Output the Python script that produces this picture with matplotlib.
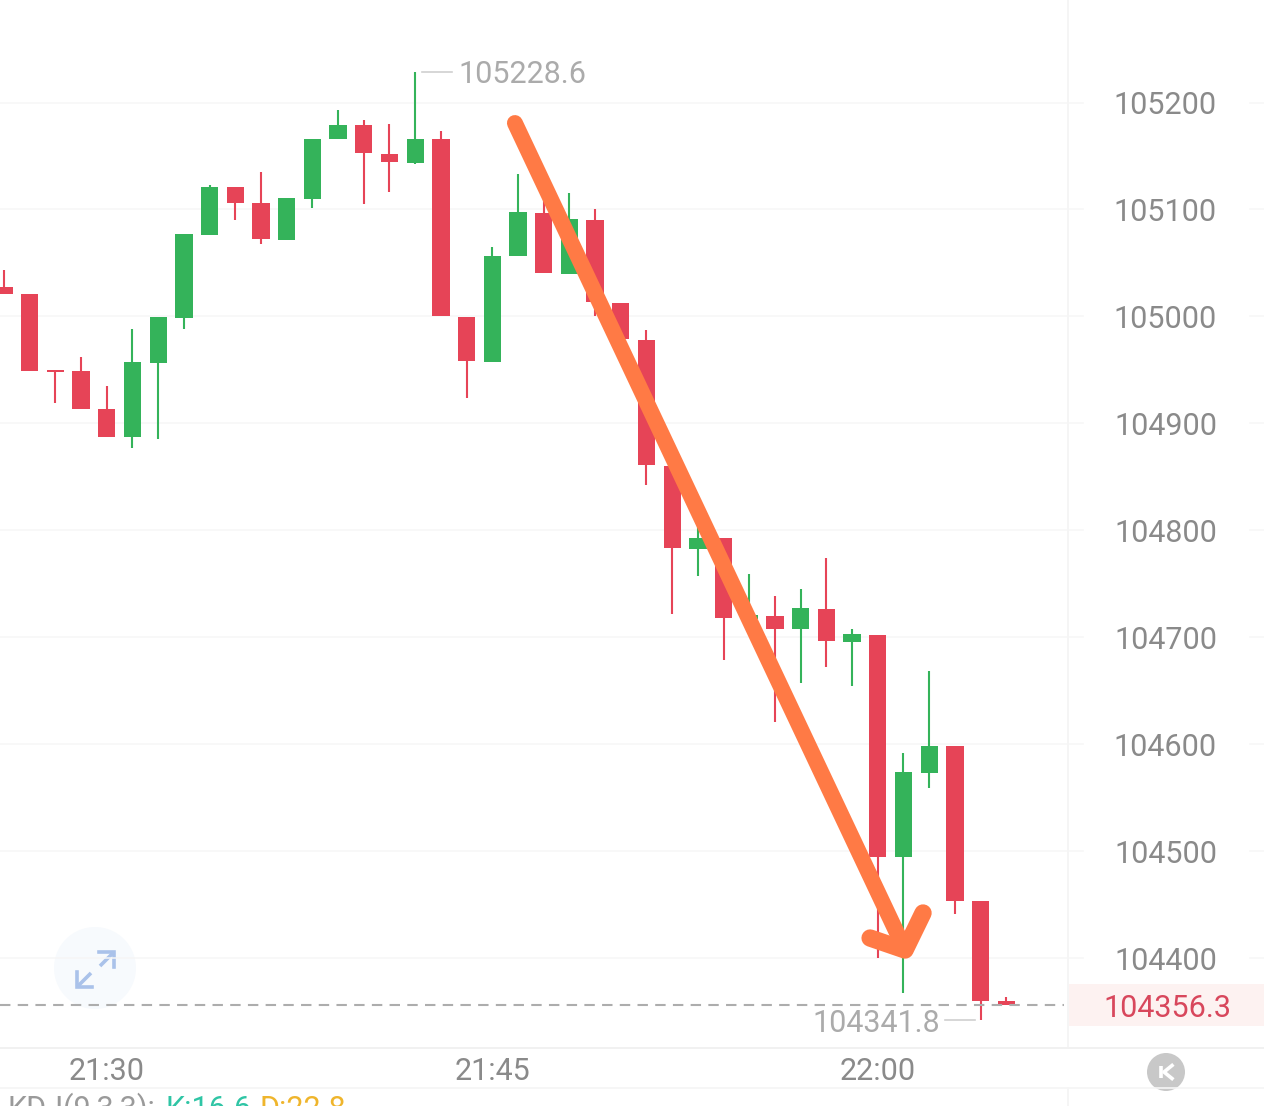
"""K线图: 价格走势 + 手绘橙色下跌箭头"""

import matplotlib
matplotlib.use("Agg")
import matplotlib.pyplot as plt
from matplotlib.patches import Circle, Rectangle

plt.rcParams["font.family"] = ["Roboto", "DejaVu Sans"]

# ---------- 数据 ----------
opens = [105027.5, 105020.6, 104949.4, 104948.6, 104913.4, 104887.2, 104956.7, 104998.8,
         105076.4, 105120.7, 105105.7, 105071.7, 105109.8, 105165.6, 105179.0, 105152.1,
         105143.7, 105165.6, 104999.7, 104957.6, 105056.2, 105096.8, 105040.0, 105090.1,
         105012.6, 104978.3, 104860.4, 104782.9, 104792.9, 104717.4, 104719.8, 104707.7,
         104726.4, 104695.7, 104702.5, 104494.5, 104573.0, 104597.8, 104452.9, 104359.4]
closes = [105020.9, 104948.9, 104948.0, 104913.7, 104887.2, 104957.3, 104999.7, 105077.0,
          105121.0, 105106.3, 105072.4, 105110.4, 105166.1, 105179.2, 105152.5, 105144.1,
          105165.9, 105000.4, 104958.3, 105056.7, 105097.3, 105040.7, 105090.8, 105013.0,
          104978.6, 104860.7, 104783.5, 104793.2, 104718.1, 104720.8, 104708.0, 104727.3,
          104696.1, 104703.0, 104494.5, 104574.0, 104598.3, 104453.3, 104359.8, 104356.3]
highs = [105043.4, 105020.6, 104949.4, 104962.3, 104934.9, 104988.5, 104999.7, 105077.0,
         105122.9, 105120.7, 105134.7, 105110.4, 105166.1, 105193.0, 105183.6, 105179.9,
         105228.6, 105173.3, 104999.7, 105064.9, 105132.9, 105111.6, 105115.4, 105100.8,
         105012.6, 104987.3, 104860.4, 104806.9, 104792.9, 104759.1, 104738.5, 104745.1,
         104774.1, 104707.7, 104702.5, 104591.7, 104668.4, 104597.8, 104452.9, 104363.6]
lows = [105020.9, 104948.9, 104919.0, 104913.7, 104887.2, 104877.2, 104885.3, 104988.2,
        105076.4, 105090.1, 105068.0, 105071.7, 105101.6, 105165.6, 105105.1, 105116.3,
        105142.5, 105000.4, 104923.7, 104957.6, 105056.2, 105040.7, 105040.0, 105000.6,
        104978.6, 104842.7, 104721.7, 104757.5, 104678.3, 104717.4, 104620.7, 104657.2,
        104672.1, 104654.7, 104400.0, 104367.3, 104559.0, 104441.2, 104341.8, 104356.3]

price_ticks = [105200, 105100, 105000, 104900, 104800, 104700, 104600, 104500, 104400]
time_idx = [4, 19, 34]
time_labels = ["21:30", "21:45", "22:00"]
high_idx, high_val = 16, 105228.6
low_idx, low_val = 38, 104341.8
last_price = 104356.3

arrow_x = [19.88, 35.06]
arrow_y = [105180.8, 104407.5]
head_x = [35.76, 35.06, 33.70]
head_y = [104442.1, 104407.5, 104418.7]

# ---------- 样式 ----------
RED = "#e64457"
GREEN = "#34b35a"
ORANGE = "#ff7a45"
GRID = "#f6f6f6"
AXIS_TEXT = "#8a8a8a"
EXTREME_TEXT = "#ababab"
FS = 22

W, H = 1264, 1106
BAR_PX = 25.7          # 每根K线占的像素
PRICE_PER_PX = 0.9351  # 每像素对应的价格


def px_x(px):
    """图片像素 x 换算成K线序号"""
    return (px - 4) / BAR_PX


fig = plt.figure(figsize=(W / 100, H / 100), dpi=100, facecolor="white")

# 界面元素用像素坐标
ui = fig.add_axes([0, 0, 1, 1])
ui.set_xlim(0, W)
ui.set_ylim(H, 0)
ui.axis("off")

# K线用数据坐标
ax = fig.add_axes([0, 0, 1, 1], facecolor="none")
ax.set_xlim(px_x(0), px_x(W))
ax.set_ylim(105200 - (H - 102.5) * PRICE_PER_PX, 105200 + 102.5 * PRICE_PER_PX)
ax.axis("off")

# ---------- 面板线 ----------
ui.plot([1068, 1068], [0, 1048], color="#f3f3f3", lw=1.2)
ui.plot([1068, 1068], [1088, H], color="#f3f3f3", lw=1.2)
ui.plot([0, W], [1048, 1048], color="#f1f1f1", lw=1.4)
ui.plot([0, W], [1088, 1088], color="#f5f5f5", lw=1.2)
ui.add_patch(Rectangle((1069, 984), W - 1069, 42, color="#fdf2f1", lw=0))

# 网格和价格刻度
for p in price_ticks:
    ax.plot([px_x(0), px_x(1083)], [p, p], color=GRID, lw=1.1, zorder=1)
    ax.plot([px_x(1250), px_x(W)], [p, p], color=GRID, lw=1.1, zorder=1)
    ax.text(px_x(1217), p, str(p), color=AXIS_TEXT, fontsize=FS,
            ha="right", va="center_baseline")

for i, label in zip(time_idx, time_labels):
    ui.text(4 + i * BAR_PX, 1069, label, color=AXIS_TEXT, fontsize=FS,
            ha="center", va="center_baseline")

# ---------- K线 ----------
xs = list(range(len(opens)))
colors = [GREEN if c > o else RED for o, c in zip(opens, closes)]
ax.vlines(xs, lows, highs, colors=colors, lw=1.5, capstyle="butt", zorder=3)
ax.bar(xs, [abs(c - o) for o, c in zip(opens, closes)],
       bottom=[min(o, c) for o, c in zip(opens, closes)],
       width=17.3 / BAR_PX, color=colors, lw=0, zorder=4)

# 最新价虚线
ax.plot([px_x(0), px_x(1064)], [last_price, last_price], color="#adadad",
        lw=1.5, linestyle=(0, (5, 3.5)), zorder=5)
ax.text(px_x(1167), last_price - 1, f"{last_price:.1f}", color="#d8475c",
        fontsize=FS, ha="center", va="center_baseline", zorder=6)

# 最高/最低价标注
ax.plot([high_idx + 7 / BAR_PX, high_idx + 37 / BAR_PX], [high_val, high_val],
        color="#d0d0d0", lw=1.2, zorder=2)
ax.text(high_idx + 43 / BAR_PX, high_val, f"{high_val:.1f}", color=EXTREME_TEXT,
        fontsize=FS, ha="left", va="center_baseline")
ax.plot([low_idx - 36 / BAR_PX, low_idx - 6 / BAR_PX], [low_val, low_val],
        color="#d0d0d0", lw=1.2, zorder=2)
ax.text(low_idx - 41 / BAR_PX, low_val, f"{low_val:.1f}", color=EXTREME_TEXT,
        fontsize=FS, ha="right", va="center_baseline")

# ---------- 橙色箭头 ----------
ax.plot(arrow_x, arrow_y, color=ORANGE, lw=11.5, solid_capstyle="round", zorder=8)
ax.plot(head_x, head_y, color=ORANGE, lw=12.5, solid_capstyle="round",
        solid_joinstyle="round", zorder=8)

# ---------- 左下角放大按钮 ----------
ui.add_patch(Circle((95, 968), 41, color="#f7fafd", lw=0))
icon = "#aac2ea"
ui.plot([100, 114], [966, 952], color=icon, lw=2.6, solid_capstyle="butt")
ui.plot([99, 114, 114], [952, 952, 967], color=icon, lw=2.6, solid_joinstyle="miter")
ui.plot([91, 77], [973, 987], color=icon, lw=2.6, solid_capstyle="butt")
ui.plot([77, 77, 92], [972, 987, 987], color=icon, lw=2.6, solid_joinstyle="miter")

# ---------- 右下角K按钮 ----------
ui.add_patch(Circle((1166, 1072), 19, color="#c8c8c8", lw=0))
ui.plot([1160.5, 1160.5], [1066, 1078], color="white", lw=2.6, solid_capstyle="butt")
ui.plot([1172, 1164, 1172], [1065.5, 1072, 1078.5], color="white", lw=2.6)

# ---------- 底部指标(被截断) ----------
ui.text(8, 1118, "KDJ(9,3,3):", color="#9a9a9a", fontsize=FS, ha="left", va="baseline")
ui.text(165, 1118, "K:16.6", color="#2fc5a5", fontsize=FS, ha="left", va="baseline")
ui.text(259, 1118, "D:22.8", color="#efb52c", fontsize=FS, ha="left", va="baseline")

fig.savefig("out.png", dpi=100)
plt.close(fig)
